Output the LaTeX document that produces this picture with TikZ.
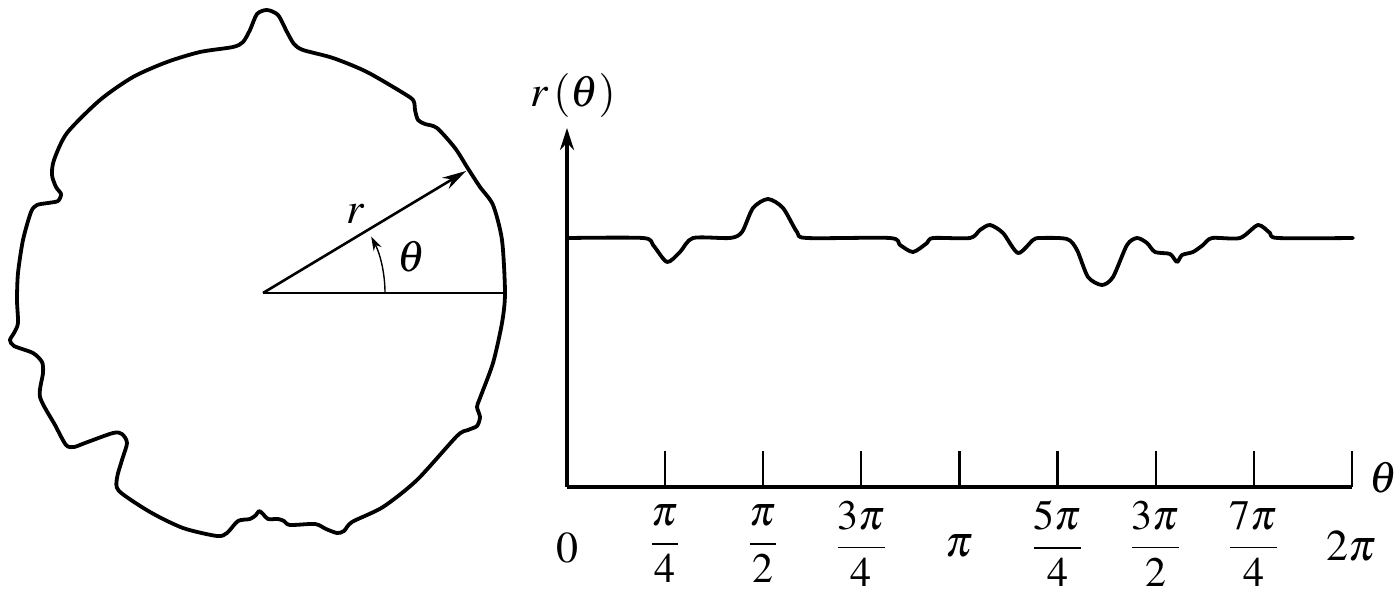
\documentclass[tikz,border=0pt]{standalone}
\usepackage{amsmath}
\usepackage{mathptmx}
\usetikzlibrary{arrows.meta}
\tikzset{
  thick curve/.style={line width=1.9pt, line join=round, line cap=round},
  radline/.style={line width=1.3pt},
  axisline/.style={line width=1.6pt},
  tickline/.style={line width=1.1pt},
  lbl/.style={inner sep=0pt, font=\fontsize{22}{26}\selectfont},
  flbl/.style={inner sep=0pt, font=\fontsize{21}{25}\selectfont},
}
\begin{document}
\begin{tikzpicture}[x=0.5pt,y=-0.5pt]
\useasboundingbox (0,0) rectangle (1399,595);
% ---------- left: irregular round outline ----------
\coordinate (O) at (263,293);
\coordinate (E) at (505,293);
\coordinate (T) at (466,171);
\draw[thick curve] plot[smooth cycle, tension=0.45] coordinates {
 (505,293) (502,240) (493,205) (480,187) (467,167) (455,148) (437,128)
 (425,124) (418,120) (415,110) (414,102) (408,96) (367,72) (333,58) (303,50)
 (294,44) (287,32) (278,15) (267,10) (257,14) (250,30) (243,42) (233,47)
 (200,52) (167,62) (133,77) (100,100) (67,133) (54,160) (52,175) (56,187)
 (61,194) (58,201) (48,203) (37,205) (31,212) (23,240) (18,273) (17,300)
 (18,323) (14,333) (10,340) (14,346) (33,353) (42,362) (43,373) (40,397)
 (55,425) (66,445) (74,447) (85,443) (113,433) (122,434) (127,443) (122,460)
 (117,478) (119,491) (150,512) (183,528) (217,536) (227,533) (238,521)
 (250,519) (256,515) (259,511) (263,514) (268,519) (278,519) (284,521)
 (290,525) (315,524) (326,529) (337,533) (344,531) (352,522) (383,507)
 (417,480) (457,436) (468,430) (477,426) (480,417) (477,407) (480,398)
 (493,363) (502,323)
};
\draw[radline] (O) -- (E);
\draw[radline,-{Stealth[length=12pt,width=6.5pt]}] (O) -- (T);
\draw[line width=0.7pt,-{Stealth[length=7pt,width=4.5pt]}] (385,293) arc[start angle=0,end angle=-27.5,radius=122];
\node[lbl] (rl) at (356,214) {$r$};
\node[lbl] (thl) at (411,257) {$\theta$};
% ---------- right: graph ----------
\coordinate (A0) at (567,487);
\coordinate (Ay) at (567,128);
\coordinate (Ax) at (1352,487);
\draw[axisline,-{Stealth[length=11pt,width=7pt]}] (A0) -- (Ay);
\draw[axisline] (A0) -- (Ax);
\foreach \i in {1,...,8} {
  \coordinate (t\i) at ({567+98.1*\i},487);
  \draw[tickline] (t\i) -- ++(0,-36);
}
\node[lbl] (ylab) at (573,95) {$r\,(\theta)$};
\node[lbl] (xlab) at (1383,478) {$\theta$};
\node[lbl] (l0) at (567,548) {$0$};
\node[flbl] (l1) at (665.1,544) {$\dfrac{\pi}{4}$};
\node[flbl] (l2) at (763.2,544) {$\dfrac{\pi}{2}$};
\node[flbl] (l3) at (861.3,544) {$\dfrac{3\pi}{4}$};
\node[lbl] (l4) at (959.4,546) {$\pi$};
\node[flbl] (l5) at (1057.5,544) {$\dfrac{5\pi}{4}$};
\node[flbl] (l6) at (1155.6,544) {$\dfrac{3\pi}{2}$};
\node[flbl] (l7) at (1253.7,544) {$\dfrac{7\pi}{4}$};
\node[lbl] (l8) at (1351.8,546) {$2\pi$};
\draw[thick curve] plot[smooth, tension=0.45] coordinates {
 (568,238) (643,238) (653,245) (667,262) (680,252) (693,238) (730,238)
 (742,232) (753,208) (768,199) (783,208) (797,232) (807,238) (890,238)
 (900,245) (913,252) (927,243) (933,238) (970,238) (980,230) (990,225)
 (1003,233) (1018,253) (1033,240) (1040,238) (1067,239) (1077,250)
 (1088,277) (1102,285) (1113,277) (1127,245) (1137,238) (1147,243)
 (1155,252) (1170,254) (1177,262) (1182,255) (1193,252) (1203,245)
 (1212,238) (1240,238) (1258,225) (1270,233) (1278,238) (1353,238)
};
\end{tikzpicture}
\end{document}
